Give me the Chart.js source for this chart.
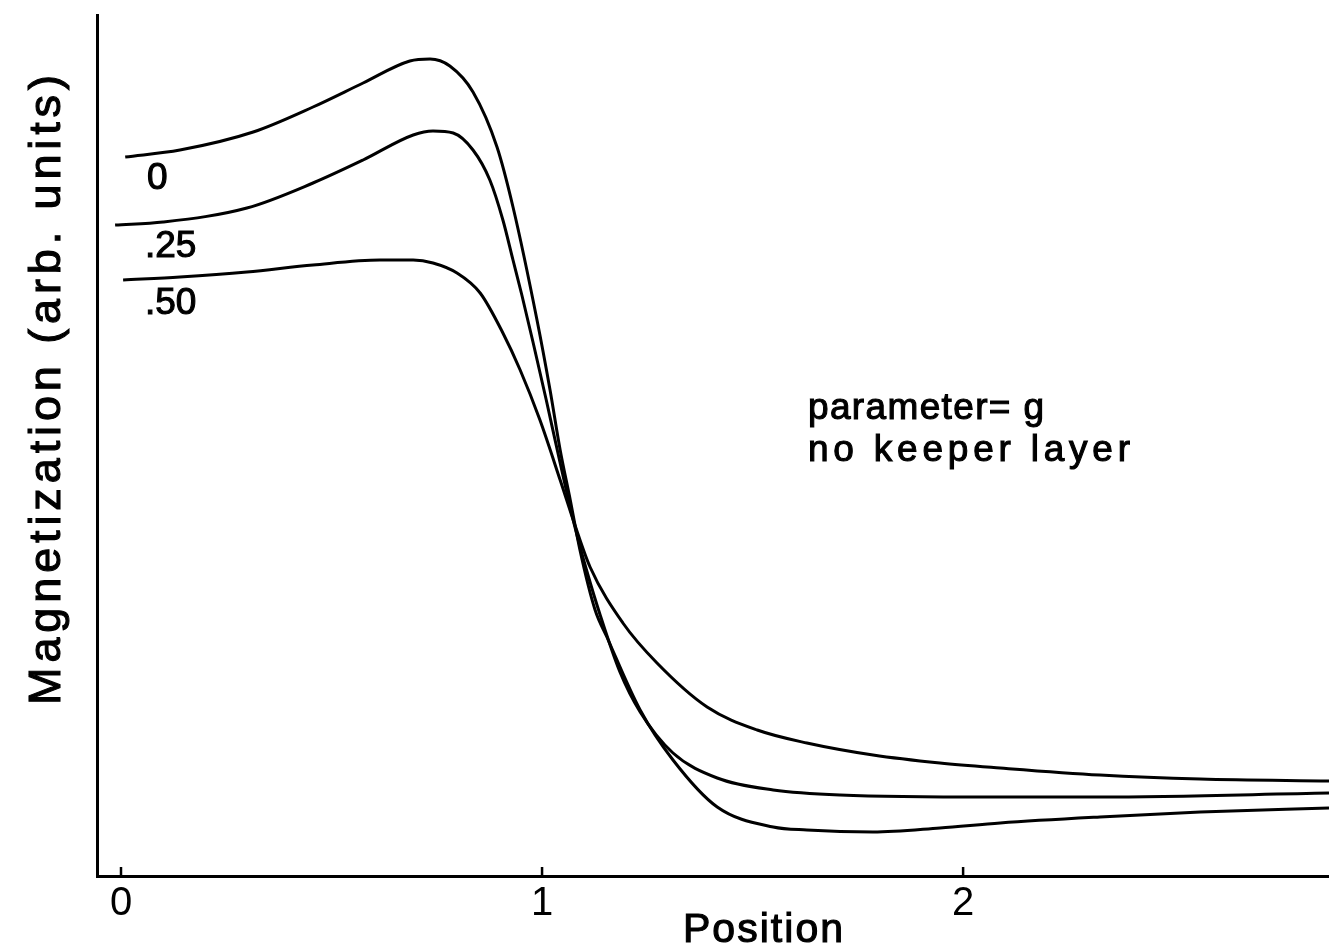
<!DOCTYPE html>
<html>
<head>
<meta charset="utf-8">
<script src="https://cdn.jsdelivr.net/npm/chart.js@4.4.1/dist/chart.umd.min.js"></script>
<style>
  html, body { margin: 0; padding: 0; background: #ffffff; }
  #wrap { width: 1329px; height: 948px; position: relative; }
</style>
</head>
<body>
<div id="wrap"><canvas id="c" width="1329" height="948"></canvas></div>
<script>
// ---- data (Position vs. Magnetization, arbitrary units) ----
const seriesNames = ["0", ".25", ".50"];

const pos0 = [0.01, 0.14, 0.314, 0.456, 0.575, 0.686, 0.734, 0.781, 0.836, 0.893, 0.931, 0.988, 1.019, 1.043, 1.067, 1.090, 1.126, 1.154, 1.233, 1.311, 1.416, 1.549, 1.629, 1.786, 1.945, 2.088, 2.325, 2.563, 2.869];
const mag0 = [7.19, 7.26, 7.44, 7.69, 7.93, 8.15, 8.17, 8.10, 7.84, 7.29, 6.69, 5.56, 4.86, 4.26, 3.76, 3.26, 2.66, 2.39, 1.66, 1.16, 0.69, 0.49, 0.46, 0.44, 0.48, 0.53, 0.59, 0.64, 0.68];

const pos25 = [-0.014, 0.10, 0.299, 0.456, 0.575, 0.694, 0.741, 0.789, 0.836, 0.876, 0.907, 0.931, 0.952, 0.979, 1.010, 1.043, 1.078, 1.107, 1.138, 1.185, 1.233, 1.311, 1.416, 1.549, 1.708, 2.064, 2.325, 2.869];
const mag25 = [6.51, 6.54, 6.68, 6.93, 7.16, 7.41, 7.45, 7.43, 7.26, 6.96, 6.56, 6.16, 5.81, 5.33, 4.76, 4.13, 3.49, 3.04, 2.61, 2.04, 1.64, 1.23, 0.98, 0.86, 0.81, 0.79, 0.79, 0.83];

const pos50 = [0.005, 0.14, 0.299, 0.456, 0.615, 0.694, 0.741, 0.798, 0.853, 0.907, 0.948, 0.995, 1.043, 1.078, 1.114, 1.192, 1.273, 1.392, 1.511, 1.629, 1.786, 1.945, 2.088, 2.325, 2.563, 2.869];
const mag50 = [5.96, 5.99, 6.04, 6.11, 6.16, 6.16, 6.13, 6.03, 5.83, 5.43, 5.06, 4.56, 3.96, 3.51, 3.09, 2.53, 2.13, 1.69, 1.46, 1.33, 1.21, 1.13, 1.08, 1.01, 0.97, 0.95];

const xTickValues = [0, 1, 2];
const xTickLabels = ["0", "1", "2"];
const xTitle = "Position";
const yTitle = "Magnetization (arb. units)";
const noteLines = ["parameter= g", "no keeper layer"];

// ---- build ----
function zip(xs, ys) { return xs.map((x, i) => ({ x: x, y: ys[i] })); }
const allPos = [pos0, pos25, pos50];
const allMag = [mag0, mag25, mag50];

const FONT = "'Liberation Sans', Arial, Helvetica, sans-serif";
const NARROW = "'Liberation Sans Narrow', 'Liberation Sans', Arial, sans-serif";

function heavyText(ctx, text, x, y) {
  ctx.fillText(text, x, y);
  ctx.lineWidth = 1.1;
  ctx.strokeText(text, x, y);
}

function spacedText(ctx, text, x, y, targetWidth, align) {
  ctx.letterSpacing = '0px';
  const w0 = ctx.measureText(text).width;
  const n = Math.max(1, text.length - 1);
  const sp = (targetWidth - w0) / n;
  ctx.letterSpacing = sp + 'px';
  let startX = x;
  if (align === 'center') startX = x - targetWidth / 2;
  ctx.textAlign = 'left';
  heavyText(ctx, text, startX, y);
  ctx.letterSpacing = '0px';
}

const decor = {
  id: 'decor',
  afterDatasetsDraw(chart) {
    const ctx = chart.ctx;
    const xs = chart.scales.x;
    const area = chart.chartArea;
    ctx.save();
    ctx.fillStyle = '#000';
    ctx.strokeStyle = '#000';
    // inward tick marks
    ctx.lineWidth = 2.5;
    xTickValues.forEach(v => {
      const px = xs.getPixelForValue(v);
      ctx.beginPath();
      ctx.moveTo(px, area.bottom);
      ctx.lineTo(px, area.bottom - 9);
      ctx.stroke();
    });
    // curve labels
    ctx.textBaseline = 'alphabetic';
    ctx.font = '37px ' + FONT;
    ctx.textAlign = 'left';
    heavyText(ctx, seriesNames[0], 147, 189);
    heavyText(ctx, seriesNames[1], 145, 257);
    heavyText(ctx, seriesNames[2], 145, 314);
    // annotation
    ctx.font = '37px ' + FONT;
    spacedText(ctx, noteLines[0], 808, 419, 236, 'left');
    spacedText(ctx, noteLines[1], 808, 461, 322, 'left');
    // x title
    ctx.font = '41px ' + FONT;
    spacedText(ctx, xTitle, 763, 942, 160, 'center');
    // y title
    ctx.save();
    ctx.translate(60, 390);
    ctx.rotate(-Math.PI / 2);
    ctx.font = '45px ' + FONT;
    spacedText(ctx, yTitle, 0, 0, 630, 'center');
    ctx.restore();
    ctx.restore();
  }
};

new Chart(document.getElementById('c'), {
  type: 'line',
  data: {
    datasets: allPos.map((p, i) => ({
      label: seriesNames[i],
      data: zip(p, allMag[i]),
      borderColor: '#000',
      borderWidth: 3,
      pointRadius: 0,
      fill: false,
      cubicInterpolationMode: 'monotone'
    }))
  },
  options: {
    responsive: false,
    animation: false,
    devicePixelRatio: 1,
    layout: { padding: { left: 97, right: 0, top: 15, bottom: 0 } },
    plugins: { legend: { display: false }, tooltip: { enabled: false } },
    scales: {
      x: {
        type: 'linear',
        min: -0.057,
        max: 2.869,
        afterBuildTicks(scale) { scale.ticks = xTickValues.map(v => ({ value: v })); },
        afterFit(scale) { scale.height = 72; },
        grid: { display: true, drawOnChartArea: false, drawTicks: false, tickLength: 0 },
        border: { display: true, color: '#000', width: 3 },
        ticks: {
          color: '#000',
          font: { family: NARROW, size: 40 },
          padding: 4,
          maxRotation: 0,
          callback(v) { const i = xTickValues.indexOf(v); return i >= 0 ? xTickLabels[i] : ''; }
        }
      },
      y: {
        type: 'linear',
        min: 0,
        max: 8.61,
        afterFit(scale) { scale.width = 0; },
        grid: { display: true, drawOnChartArea: false, drawTicks: false, tickLength: 0 },
        border: { display: true, color: '#000', width: 3 },
        ticks: { display: false }
      }
    }
  },
  plugins: [decor]
});
</script>
</body>
</html>
